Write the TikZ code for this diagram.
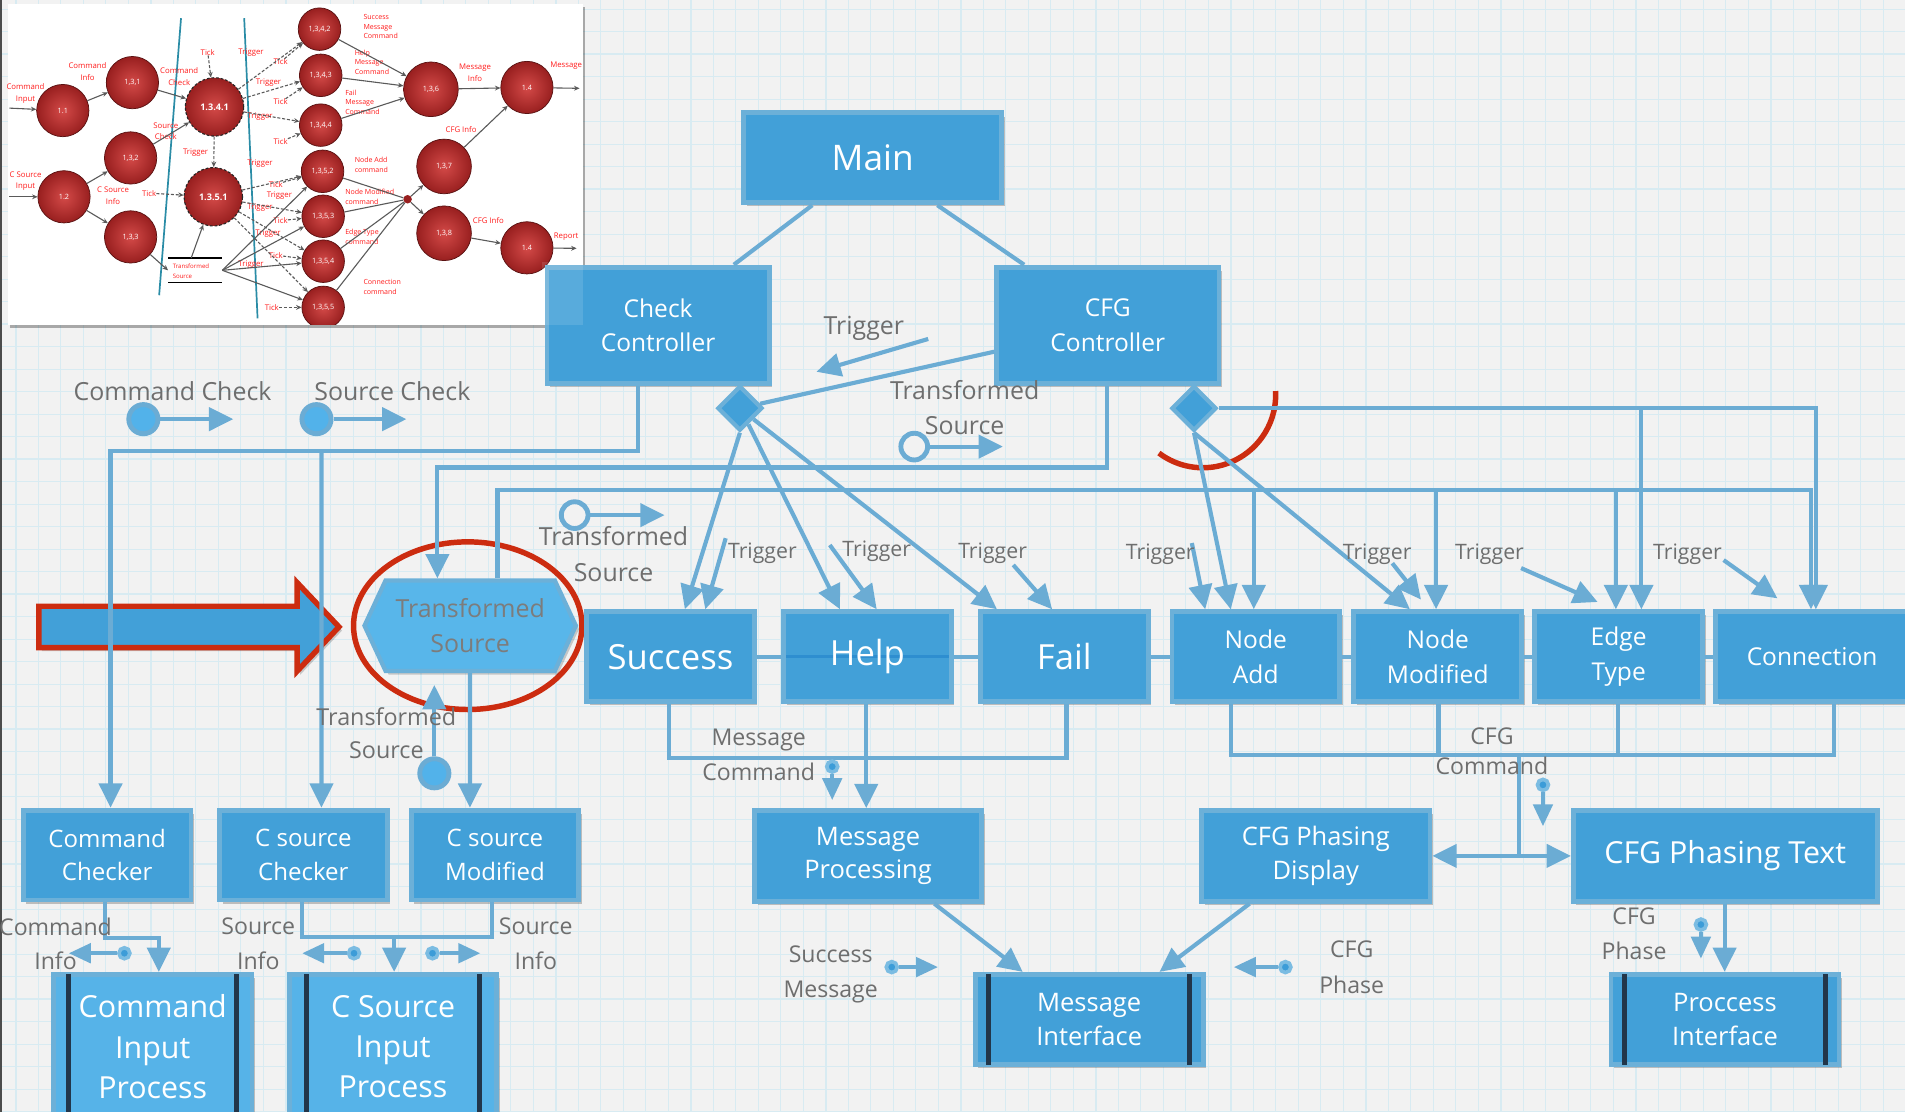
\documentclass[tikz,border=0pt]{standalone}
\usepackage{fontspec}
\setmainfont{Open Sans}
\usetikzlibrary{arrows.meta,shapes.geometric,shapes.symbols,shadows}
\definecolor{bgc}{HTML}{F2F2F2}
\definecolor{gridc}{HTML}{D8EBF2}
\definecolor{boxfill}{HTML}{42A0D8}
\definecolor{boxline}{HTML}{6CB0D8}
\definecolor{linec}{HTML}{6BACD4}
\definecolor{hexfill}{HTML}{58B6EA}
\definecolor{hexgray}{HTML}{7C7C7C}
\definecolor{iofill}{HTML}{56B3E8}
\definecolor{barc}{HTML}{22364A}
\definecolor{ringred}{HTML}{CC2C10}
\definecolor{lblgray}{HTML}{6E6E6E}
\definecolor{dotfill}{HTML}{52B2EA}
\definecolor{dotcore}{HTML}{3C9CD8}
\definecolor{dotrim}{HTML}{7BBCE2}
\definecolor{stripe}{HTML}{2E8ED0}
\definecolor{dfdred}{HTML}{FF1E1E}
\definecolor{dfdgray}{HTML}{5A5A5A}
\definecolor{dfdteal}{HTML}{2A8CA6}
\definecolor{ballin}{HTML}{D44A48}
\definecolor{ballout}{HTML}{981F1F}
\definecolor{ballrim}{HTML}{5A1212}
\begin{document}
\begin{tikzpicture}[x=1pt,y=-1pt,
  box/.style={draw=boxline, fill=boxfill, line width=4pt, text=white, align=center,
    inner sep=0pt, font=\fontsize{20.2}{28.5}\selectfont,
    drop shadow={shadow xshift=2.5pt,shadow yshift=-3pt,opacity=.22,fill=black}},
  iobox/.style={box, fill=iofill},
  ibar/.style={draw=barc, line width=4pt},
  conn/.style={draw=linec, line width=3.4pt},
  arr/.style={-{Triangle[width=19pt,length=20pt]}},
  darr/.style={-{Triangle[width=16pt,length=18pt]}},
  lbl/.style={text=lblgray, align=center, inner sep=0pt, font=\fontsize{20.5}{29}\selectfont},
  tlbl/.style={lbl, font=\fontsize{17.5}{21}\selectfont},
  slbl/.style={lbl, font=\fontsize{19}{28.5}\selectfont},
  dia/.style={diamond, aspect=1, minimum width=37pt, minimum height=37pt, inner sep=0pt,
    fill=boxfill, draw=boxline, line width=3.5pt},
  hexa/.style={signal, signal to=west and east, signal pointer angle=130,
    minimum width=174pt, minimum height=74.5pt, inner sep=0pt, fill=hexfill, draw=boxline,
    line width=3.5pt, text=hexgray, align=center, font=\fontsize{20.5}{29}\selectfont,
    drop shadow={shadow xshift=2.5pt,shadow yshift=-3pt,opacity=.18,fill=black}},
  bigdot/.style={circle, minimum size=24pt, inner sep=0pt, fill=dotfill, draw=linec, line width=4pt},
  odot/.style={circle, minimum size=22pt, inner sep=0pt, fill=bgc, draw=linec, line width=4pt},
  sdot/.style={circle, minimum size=9pt, inner sep=0pt, fill=dotcore, draw=dotrim, line width=3pt},
  dfdball/.style={circle, inner sep=0pt, minimum size=#1, shade, shading=radial,
    inner color=ballin, outer color=ballout, draw=ballrim, line width=0.6pt,
    text=white, font=\fontsize{6}{7}\selectfont},
  dfdbig/.style={dfdball=48pt, draw=black!85, line width=0.9pt, dash pattern=on 2.2pt off 1.6pt,
    font=\bfseries\fontsize{7.5}{8}\selectfont},
  dfdarr/.style={draw=dfdgray, line width=0.9pt, -{Stealth[length=4.5pt,width=4pt]}},
  dfddash/.style={dfdarr, dash pattern=on 2.5pt off 1.5pt},
  rl/.style={text=dfdred, align=center, inner sep=0pt, font=\fontsize{6.4}{9.5}\selectfont},
  rll/.style={text=dfdred, align=left, anchor=west, inner sep=0pt, font=\fontsize{5.8}{7.8}\selectfont}
]
\useasboundingbox (0,0) rectangle (1568,915);

% ---------- paper with grid
\fill[bgc] (0,0) rectangle (1568,915);
\foreach \k in {0,...,84} {
  \pgfmathsetmacro\gx{12.96+18.52*\k}
  \draw[gridc, line width=0.8pt] (\gx,0) -- (\gx,915);
}
\foreach \k in {0,6,...,84} {
  \pgfmathsetmacro\gx{12.96+18.52*\k}
  \draw[gridc, line width=1.5pt] (\gx,0) -- (\gx,915);
}
\foreach \k in {0,...,49} {
  \pgfmathsetmacro\gy{7.6+18.52*\k}
  \draw[gridc, line width=0.8pt] (0,\gy) -- (1568,\gy);
}
\foreach \k in {2,8,...,50} {
  \pgfmathsetmacro\gy{7.6+18.52*\k}
  \draw[gridc, line width=1.5pt] (0,\gy) -- (1568,\gy);
}
\fill[black!70] (0,0) rectangle (1.6,915);

% ---------- data flow diagram sheet
\fill[white, drop shadow={shadow xshift=2pt,shadow yshift=-2.5pt,opacity=.3,fill=black}]
  (6.2,3.3) rectangle (479.6,267.5);
\begin{scope}
\clip (6.2,3.3) rectangle (479.6,267.5);
\draw[dfdteal, line width=1.4pt] (149,15) -- (131,243);
\draw[dfdteal, line width=1.4pt] (201,15) -- (212,262);

\node[dfdball=43pt] (c11)  at (51.7,91)   {1.1};
\node[dfdball=43pt] (c131) at (109,68)    {1,3,1};
\node[dfdball=43pt] (c132) at (107.5,130) {1,3,2};
\node[dfdball=43pt] (c12)  at (52.7,162)  {1.2};
\node[dfdball=43pt] (c133) at (107.5,195) {1,3,3};
\node[dfdbig] (c1341) at (176.6,88)  {1.3.4.1};
\node[dfdbig] (c1351) at (175.6,162) {1.3.5.1};
\node[dfdball=35pt] (c1342) at (263,24)    {1,3,4,2};
\node[dfdball=35pt] (c1343) at (264,62)    {1,3,4,3};
\node[dfdball=35pt] (c1344) at (264,103)   {1,3,4,4};
\node[dfdball=35pt] (c1352) at (265.5,141) {1,3,5,2};
\node[dfdball=35pt] (c1353) at (266,178)   {1,3,5,3};
\node[dfdball=35pt] (c1354) at (266,215)   {1,3,5,4};
\node[dfdball=35pt] (c1355) at (266,253)   {1,3,5,5};
\node[dfdball=45pt] (c136) at (354.7,73.5) {1,3,6};
\node[dfdball=45pt] (c137) at (365.5,137)  {1,3,7};
\node[dfdball=45pt] (c138) at (365.5,192)  {1,3,8};
\node[dfdball=43pt] (c14a) at (433.7,72)   {1.4};
\node[dfdball=43pt] (c14b) at (433.7,204)  {1.4};
\node[circle, fill=ballout, minimum size=7pt, inner sep=0pt] (jdot) at (335.5,164) {};

\node[inner sep=0pt, minimum width=44.3pt, minimum height=19.8pt] (store) at (160.65,222.5) {};
\draw[black, line width=1pt] (store.north west) -- (store.north east);
\draw[black, line width=1pt] (store.south west) -- (store.south east);
\node[rll, font=\fontsize{5}{8}\selectfont] (storetxt) at (142,223) {Transformed\\Source};

% labels
\node[rl] (lCIn)   at (21,77)     {Command\\Input};
\node[rl] (lCInfo) at (72,59)     {Command\\Info};
\node[rl] (lCChk)  at (147.5,63)  {Command\\Check};
\node[rl] (lTk1)   at (171,43)    {Tick};
\node[rl] (lTg1)   at (206.6,43)  {Trigger};
\node[rl] (lTk2)   at (231,51)    {Tick};
\node[rl] (lTg2)   at (221,68)    {Trigger};
\node[rl] (lTk3)   at (231,84)    {Tick};
\node[rl] (lTg3)   at (214,96)    {Trigger};
\node[rl] (lTk4)   at (231,116.6) {Tick};
\node[rl] (lSChk)  at (136.5,108) {Source\\Check};
\node[rl] (lTg4)   at (161,126)   {Trigger};
\node[rl] (lCSIn)  at (21,149)    {C Source\\Input};
\node[rl] (lCSInf) at (93,161)    {C Source\\Info};
\node[rl] (lTk5)   at (122.7,159) {Tick};
\node[rl] (lTg5)   at (214,135)   {Trigger};
\node[rl] (lTk6)   at (227,151.7) {Tick};
\node[rl] (lTg6)   at (230,161)   {Trigger};
\node[rl] (lTg7)   at (214,170.6) {Trigger};
\node[rl] (lTk7)   at (231,181.6) {Tick};
\node[rl] (lTg8)   at (220.6,192) {Trigger};
\node[rl] (lTk8)   at (227,210)   {Tick};
\node[rl] (lTg9)   at (206.6,218) {Trigger};
\node[rl] (lTk9)   at (223.7,253) {Tick};
\node[rll] (lSMC)  at (299,22)    {Success\\Message\\Command};
\node[rll] (lHMC)  at (291.8,51)  {Help\\Message\\Command};
\node[rll] (lFMC)  at (284,84)    {Fail\\Message\\Command};
\node[rl] (lMI)    at (391,60)    {Message\\Info};
\node[rl] (lMsg)   at (466,54)    {Message};
\node[rl] (lCFG1)  at (379.5,107) {CFG Info};
\node[rll] (lNA)   at (291.8,135.5) {Node Add\\command};
\node[rll] (lNM)   at (284,162)   {Node Modified\\command};
\node[rll] (lET)   at (284,195)   {Edge Type\\command};
\node[rll] (lCn)   at (299,236)   {Connection\\command};
\node[rl] (lCFG2)  at (402,181.6) {CFG Info};
\node[rl] (lRep)   at (466,195)   {Report};

% flows
\coordinate (ci0) at (7.7,89);
\coordinate (cs0) at (7.7,162);
\coordinate (o1) at (477,72.7);
\coordinate (o2) at (474.6,204.4);
\draw[dfdarr] (ci0) -- (c11);
\draw[dfdarr] (cs0) -- (c12);
\draw[dfdarr] (c11) -- (c131);
\draw[dfdarr] (c131) -- (c1341);
\draw[dfdarr] (c12) -- (c132);
\draw[dfdarr] (c132) -- (c1341);
\draw[dfdarr] (c12) -- (c133);
\draw[dfdarr] (c133) -- (store.west);
\draw[dfdarr] ([xshift=-3.3pt]store.north) -- (c1351);
\draw[dfdarr] (store.east) -- (c1352);
\draw[dfdarr] (store.east) -- (c1353);
\draw[dfdarr] (store.east) -- (c1354);
\draw[dfdarr] (store.east) -- (c1355);
\draw[dfdarr] (c1342) -- (c136);
\draw[dfdarr] (c1343) -- (c136);
\draw[dfdarr] (c1344) -- (c136);
\draw[dfdarr] (c136) -- (c14a);
\draw[dfdarr] (c14a) -- (o1);
\draw[dfdarr] (c137) -- (c14a);
\draw[draw=dfdgray, line width=0.9pt] (c1352) -- (jdot) (c1353) -- (jdot) (c1354) -- (jdot) (c1355) -- (jdot);
\draw[dfdarr] (jdot) -- (c137);
\draw[dfdarr] (jdot) -- (c138);
\draw[dfdarr] (c138) -- (c14b);
\draw[dfdarr] (c14b) -- (o2);
% control flows
\draw[dfddash] (lTk1) -- (c1341);
\draw[dfddash] (c1341) -- (c1342);
\draw[dfddash] (c1341) -- (c1343);
\draw[dfddash] (c1341) -- (c1344);
\draw[dfddash] (c1341) -- (c1351);
\draw[dfddash] (lTk5) -- (c1351);
\draw[dfddash] (c1351) -- (c1352);
\draw[dfddash] (c1351) -- (c1353);
\draw[dfddash] (c1351) -- (c1354);
\draw[dfddash] (c1351) -- (c1355);
\draw[dfddash] (lTk2) -- (c1342);
\draw[dfddash] (lTk3) -- (c1343);
\draw[dfddash] (lTk4) -- (c1344);
\draw[dfddash] (lTk6) -- (c1352);
\draw[dfddash] (lTk7) -- (c1353);
\draw[dfddash] (lTk8) -- (c1354);
\draw[dfddash] (lTk9) -- (c1355);
\end{scope}

% ---------- big input arrow and highlight ring
\draw[ringred, line width=4.5pt, fill=boxfill,
  drop shadow={shadow xshift=2.5pt,shadow yshift=-3pt,opacity=.18,fill=black}]
  (32,499) -- (244.5,499) -- (244.5,479.5) -- (279,516) -- (244.5,552.5) -- (244.5,533) -- (32,533) -- cycle;
\draw[ringred, line width=4.5pt] (385,515) ellipse [x radius=94, y radius=69];
\draw[ringred, line width=4.5pt] plot[domain=-3:127, samples=50] ({990+60*cos(\x)},{325+60*sin(\x)});

% ---------- blocks
\node[box, minimum width=212pt, minimum height=74pt, font=\fontsize{29}{33}\selectfont] (main) at (718.3,129.9) {Main};
\node[box, minimum width=183pt, minimum height=96pt] (checkc) at (541.7,267.9) {Check\\Controller};
\fill[white, opacity=.12] (446,216) rectangle (479.6,267.5);
\node[box, minimum width=183pt, minimum height=96pt] (cfgc) at (911.8,267.9) {CFG\\Controller};
\node[dia] (d1) at (609,336) {};
\node[dia] (d2) at (982.8,336) {};

\node[hexa] (tsrc) at (387,515) {Transformed\\Source};

\begin{scope}[every node/.append style={minimum width=138pt, minimum height=74pt}]
\node[box, font=\fontsize{28.5}{32}\selectfont] (success) at (551.9,540.5) {Success};
\node[box, font=\fontsize{28.5}{32}\selectfont,
  path picture={\draw[stripe, line width=3pt] (path picture bounding box.west) -- (path picture bounding box.east);}]
  (help) at (714,540.5) {Help};
\node[box, font=\fontsize{28.5}{32}\selectfont] (fail) at (876,540.5) {Fail};
\node[box] (nodeadd)  at (1033.6,540.5) {Node\\Add};
\node[box] (nodemod)  at (1183.4,540.5) {Node\\Modified};
\node[box] (edgetype) at (1332.3,540.5) {Edge\\Type};
\node[box, minimum width=159pt] (connection) at (1491.5,540.5) {Connection};
\node[box, font=\fontsize{19.8}{27.5}\selectfont] (cmdchk)  at (88.2,703.8)  {Command\\Checker};
\node[box, font=\fontsize{19.8}{27.5}\selectfont] (csrcchk) at (249.7,703.8) {C source\\Checker};
\node[box, font=\fontsize{19.8}{27.5}\selectfont] (csrcmod) at (407.4,703.8) {C source\\Modified};
\end{scope}

\node[iobox, minimum width=163.5pt, minimum height=119pt, font=\fontsize{25}{33}\selectfont] (cip) at (125.7,861.5) {Command\\Input\\Process};
\node[iobox, minimum width=171pt, minimum height=119pt, font=\fontsize{25}{33}\selectfont] (csip) at (323.5,861.5) {C Source\\Input\\Process};
\draw[ibar] ([xshift=14.5pt,yshift=-2pt]cip.north west) -- ([xshift=14.5pt,yshift=2pt]cip.south west);
\draw[ibar] ([xshift=-15pt,yshift=-2pt]cip.north east) -- ([xshift=-15pt,yshift=2pt]cip.south east);
\draw[ibar] ([xshift=16pt,yshift=-2pt]csip.north west) -- ([xshift=16pt,yshift=2pt]csip.south west);
\draw[ibar] ([xshift=-16pt,yshift=-2pt]csip.north east) -- ([xshift=-16pt,yshift=2pt]csip.south east);

\node[box, minimum width=187pt, minimum height=74.6pt, font=\fontsize{21}{27.5}\selectfont] (msgproc) at (714.5,704.5) {Message\\Processing};
\node[box, minimum width=188pt, minimum height=74.6pt, font=\fontsize{21}{27.5}\selectfont] (cfgdisp) at (1083,704.5) {CFG Phasing\\Display};
\node[box, minimum width=250pt, minimum height=74.6pt, font=\fontsize{25}{30}\selectfont] (cfgtext) at (1420,704.5) {CFG Phasing Text};
\node[box, minimum width=187.7pt, minimum height=74.5pt, font=\fontsize{21}{28}\selectfont] (msgif) at (896.5,839.2) {Message\\Interface};
\node[box, minimum width=187.6pt, minimum height=74.5pt, font=\fontsize{21}{28}\selectfont] (procif) at (1419.8,839.2) {Proccess\\Interface};
\draw[ibar] ([xshift=13pt,yshift=-2pt]msgif.north west) -- ([xshift=13pt,yshift=2pt]msgif.south west);
\draw[ibar] ([xshift=-13pt,yshift=-2pt]msgif.north east) -- ([xshift=-13pt,yshift=2pt]msgif.south east);
\draw[ibar] ([xshift=13pt,yshift=-2pt]procif.north west) -- ([xshift=13pt,yshift=2pt]procif.south west);
\draw[ibar] ([xshift=-13pt,yshift=-2pt]procif.north east) -- ([xshift=-13pt,yshift=2pt]procif.south east);

% ---------- connectors
\draw[conn] ([xshift=-49.7pt]main.south) -- ([xshift=62.3pt]checkc.north);
\draw[conn] ([xshift=53.2pt]main.south) -- ([xshift=-68.8pt]cfgc.north);
\draw[conn] ([yshift=-21.6pt]cfgc.west) -- (d1);
\coordinate (trg0a) at (764,279);
\coordinate (trg0b) at (672,306);
\draw[conn, arr] (trg0a) -- (trg0b);

% check controller to the two checkers
\draw[conn, arr] ([xshift=-16.7pt]checkc.south) -- ++(0,53.3) -| ([xshift=2.8pt]cmdchk.north);
\coordinate (jA) at (264.6,371.2);
\draw[conn, arr] (jA) -- ([xshift=14.9pt]csrcchk.north);
% CFG controller to the transformed source
\draw[conn, arr] ([xshift=-0.8pt]cfgc.south) -- ++(0,66.9) -| ([xshift=-27pt]tsrc.north);
% transformed source bus
\draw[conn, arr] ([xshift=22.5pt]tsrc.north) -- ++(0,-72.7) -| ([xshift=-0.9pt]connection.north);
\coordinate (bD1) at (1032,403.3);
\coordinate (bD2) at (1182,403.3);
\coordinate (bD3) at (1330,403.3);
\draw[conn, arr] (bD1) -- ([xshift=-1.6pt]nodeadd.north);
\draw[conn, arr] (bD2) -- ([xshift=-1.4pt]nodemod.north);
\draw[conn, arr] (bD3) -- ([xshift=-2.3pt]edgetype.north);
% CFG decision
\draw[conn, arr] (d2.east) -| ([xshift=3.1pt]connection.north);
\coordinate (bE1) at (1351,336);
\draw[conn, arr] (bE1) -- ([xshift=18.7pt]edgetype.north);
\draw[conn, arr] (d2.south) -- ([xshift=-20.6pt]nodeadd.north);
\draw[conn, arr] (d2.south) -- ([xshift=-22.9pt]nodemod.north);
% check decision
\draw[conn, arr] (d1.south) -- ([xshift=11.8pt]success.north);
\draw[conn, arr] (d1.-62) -- ([xshift=-22.6pt]help.north);
\draw[conn, arr] (d1.-39) -- ([xshift=-55.4pt]fail.north);

% trigger arrows
\coordinate (tgS) at (597.3,443);
\coordinate (tgH) at (683,448.6);
\coordinate (tgF) at (834,465);
\coordinate (tgA) at (981,447);
\coordinate (tgM) at (1146,463.6);
\coordinate (tgE) at (1252,467.6);
\coordinate (tgC) at (1418.7,461);
\draw[conn, arr] (tgS) -- ([xshift=28.6pt]success.north);
\draw[conn, arr] (tgH) -- ([xshift=7.6pt]help.north);
\draw[conn, arr] (tgF) -- ([xshift=-10pt]fail.north);
\draw[conn, arr] (tgA) -- ([xshift=-41.6pt]nodeadd.north);
\draw[conn, arr] (tgM) -- ([xshift=-13.8pt,yshift=8pt]nodemod.north);
\draw[conn, arr] (tgE) -- ([xshift=-17.3pt,yshift=6pt]edgetype.north);
\draw[conn, arr] (tgC) -- ([xshift=-28.5pt,yshift=9pt]connection.north);

% row links
\draw[conn] (success.east) -- (help.west);
\draw[conn] (help.east) -- (fail.west);
\draw[conn] (fail.east) -- (nodeadd.west);
\draw[conn] (nodeadd.east) -- (nodemod.west);
\draw[conn] (nodemod.east) -- (edgetype.west);
\draw[conn] (edgetype.east) -- (connection.west);

% message branch
\draw[conn] ([xshift=-0.9pt]success.south) -- ++(0,44.1) -| ([xshift=1.8pt]fail.south);
\draw[conn, arr] ([xshift=-1pt]help.south) -- ([xshift=-1.5pt]msgproc.north);
% CFG branch
\draw[conn] ([xshift=-20.6pt]nodeadd.south) -- ++(0,42) -| ([xshift=18.1pt]connection.south);
\draw[conn] ([xshift=0.6pt]nodemod.south) -- ++(0,42);
\draw[conn] ([xshift=-0.3pt]edgetype.south) -- ++(0,42);
\coordinate (jC) at (1250,621.5);
\draw[conn] (jC) -- (jC |- cfgdisp.east);
\draw[conn, {Triangle[width=19pt,length=20pt]}-{Triangle[width=19pt,length=20pt]}] (cfgdisp.east) -- (cfgtext.west);
\draw[conn, arr] ([xshift=54.5pt]msgproc.south) -- ([xshift=-54.7pt]msgif.north);
\draw[conn, arr] ([xshift=-54.5pt]cfgdisp.south) -- ([xshift=57.9pt]msgif.north);
\draw[conn, arr] ([xshift=-0.5pt]cfgtext.south) -- ([xshift=-0.3pt]procif.north);

% checkers to input processes
\draw[conn, arr] ([xshift=-1.6pt]cmdchk.south) -- ++(0,29.6) -| ([xshift=5pt]cip.north);
\draw[conn] ([xshift=-0.9pt]csrcchk.south) -- ++(0,28.2) -| ([xshift=-2.6pt]csrcmod.south);
\coordinate (jS) at (324.4,771);
\draw[conn, arr] (jS) -- ([xshift=0.9pt]csip.north);
\draw[conn, arr] ([xshift=-0.2pt]tsrc.south) -- ([xshift=-20.6pt]csrcmod.north);

% ---------- flow markers
\node[bigdot] (ccdot) at (118,345) {};
\draw[conn, arr] (ccdot.east) -- ([xshift=74pt]ccdot.center);
\node[bigdot] (scdot) at (260.5,345) {};
\draw[conn, arr] (scdot.east) -- ([xshift=74pt]scdot.center);
\node[odot] (tsring1) at (752.5,367.6) {};
\draw[conn, arr] (tsring1.east) -- ([xshift=73pt]tsring1.center);
\node[odot] (tsring2) at (473,424) {};
\draw[conn, arr] (tsring2.east) -- ([xshift=74pt]tsring2.center);
\node[bigdot] (tsdot) at (357.5,636.5) {};
\draw[conn, arr] (tsdot.north) -- ([xshift=-29.5pt,yshift=-9.8pt]tsrc.south);

\node[sdot] (mcdot) at (685,631) {};
\draw[conn, line width=3pt, darr] (mcdot.south) -- ([yshift=-27.5pt]mcdot.center);
\node[sdot] (cfgcdot) at (1270,646) {};
\draw[conn, line width=3pt, darr] (cfgcdot.south) -- ([yshift=-34pt]cfgcdot.center);
\node[sdot] (cidot) at (102.4,784.6) {};
\draw[conn, line width=3pt, darr] (cidot.west) -- ([xshift=-45.7pt]cidot.center);
\node[sdot] (sidot1) at (291.4,784.6) {};
\draw[conn, line width=3pt, darr] (sidot1.west) -- ([xshift=-42.6pt]sidot1.center);
\node[sdot] (sidot2) at (356,784.6) {};
\draw[conn, line width=3pt, darr] (sidot2.east) -- ([xshift=39.3pt]sidot2.center);
\node[sdot] (smdot) at (734,796) {};
\draw[conn, line width=3pt, darr] (smdot.east) -- ([xshift=38pt]smdot.center);
\node[sdot] (cpdot1) at (1058,796) {};
\draw[conn, line width=3pt, darr] (cpdot1.west) -- ([xshift=-42.4pt]cpdot1.center);
\node[sdot] (cpdot2) at (1400,761) {};
\draw[conn, line width=3pt, darr] (cpdot2.south) -- ([yshift=-28pt]cpdot2.center);

% ---------- flow labels
\node[lbl] (lblCC) at (142,322) {Command Check};
\node[lbl] (lblSC) at (323,322) {Source Check};
\node[lbl] (lblTr0) at (711,270) {Trigger};
\node[lbl] (lblTS1) at (794,335.5) {Transformed\\Source};
\node[lbl] (lblTS2) at (505,456) {Transformed\\Source};
\node[slbl, font=\fontsize{19.2}{27}\selectfont] (lblTS3) at (318,603.5) {Transformed\\Source};
\node[tlbl] (lblTr1) at (627.5,455.4) {Trigger};
\node[tlbl] (lblTr2) at (721.6,454) {Trigger};
\node[tlbl] (lblTr3) at (817,455.4) {Trigger};
\node[tlbl] (lblTr4) at (955,456) {Trigger};
\node[tlbl] (lblTr5) at (1133.5,456) {Trigger};
\node[tlbl] (lblTr6) at (1226,456) {Trigger};
\node[tlbl] (lblTr7) at (1389,456) {Trigger};
\node[slbl] (lblMC) at (624.5,621.5) {Message\\Command};
\node[slbl, font=\fontsize{19}{25}\selectfont] (lblCFGC) at (1228,618.5) {CFG\\Command};
\node[slbl] (lblCI) at (45.7,777) {Command\\Info};
\node[slbl] (lblSI1) at (212.6,777) {Source\\Info};
\node[slbl] (lblSI2) at (441,777) {Source\\Info};
\node[slbl] (lblSM) at (683.7,802) {Success\\Message};
\node[slbl, font=\fontsize{19}{29.7}\selectfont] (lblCP1) at (1112.6,796) {CFG\\Phase};
\node[slbl] (lblCP2) at (1345,768.5) {CFG\\Phase};
\end{tikzpicture}
\end{document}
